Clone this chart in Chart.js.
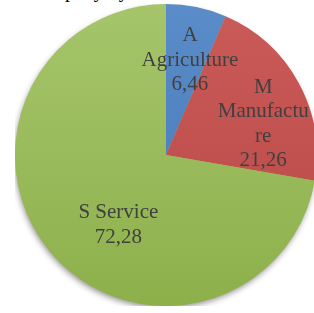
<!DOCTYPE html>
<html>
<head>
<meta charset="utf-8">
<script src="https://cdn.jsdelivr.net/npm/chart.js@4"></script>
<style>
  html, body { margin: 0; padding: 0; width: 314px; height: 313px; overflow: hidden; background: #fff; }
  #wrap { position: absolute; left: 15px; top: 4px; width: 302px; height: 302px; }
  #cut { position: absolute; left: 26px; top: -21px; font: 20px "Liberation Serif", "Times New Roman", "DejaVu Serif", serif; color: #000; white-space: nowrap; }
</style>
</head>
<body>
<div id="cut">Company by</div>
<div id="wrap"><canvas id="pie"></canvas></div>
<script>
// sector shares (%)
const codes = ["A", "M", "S"];
const sectors = ["Agriculture", "Manufacture", "Service"];
const shares = [6.46, 21.26, 72.28];
// how each label is wrapped in the picture
const labelLines = [
    ["A", "Agriculture", "6,46"],
    ["M", "Manufactu", "re", "21,26"],
    ["S Service", "72,28"]
];

const labelFont = '21px "Liberation Serif", "Times New Roman", "DejaVu Serif", serif';

const topColors = ["#5a8cca", "#cb5b59", "#a6c56b"];
const bottomColors = ["#4877b5", "#b84845", "#8db04b"];

function sliceFill(ctx) {
    const chart = ctx.chart;
    const area = chart.chartArea;
    if (!area) return topColors[ctx.dataIndex];
    const g = chart.ctx.createLinearGradient(0, area.top, 0, area.bottom);
    g.addColorStop(0, topColors[ctx.dataIndex]);
    g.addColorStop(1, bottomColors[ctx.dataIndex]);
    return g;
}

// soft shadow under the whole pie
const pieShadow = {
    id: "pieShadow",
    beforeDatasetsDraw(chart) {
        const arc = chart.getDatasetMeta(0).data[0];
        if (!arc) return;
        const c = chart.ctx;
        c.save();
        c.shadowColor = "rgba(0,0,0,0.45)";
        c.shadowBlur = 6;
        c.shadowOffsetX = -1;
        c.shadowOffsetY = 3;
        c.fillStyle = "#9bbb59";
        c.beginPath();
        c.arc(arc.x, arc.y, arc.outerRadius - 1, 0, Math.PI * 2);
        c.fill();
        c.restore();
    }
};

// labels placed along each slice's middle angle
const labelRadius = [0.66, 0.68, 0.55];
const labelTurn = [0.04, 0.17, -0.26];
const sliceLabels = {
    id: "sliceLabels",
    afterDatasetsDraw(chart) {
        const c = chart.ctx;
        c.save();
        c.font = labelFont;
        c.fillStyle = "#404040";
        c.textAlign = "center";
        c.textBaseline = "middle";
        chart.getDatasetMeta(0).data.forEach((arc, i) => {
            const mid = (arc.startAngle + arc.endAngle) / 2 + labelTurn[i];
            const r = arc.outerRadius * labelRadius[i];
            const x = arc.x + Math.cos(mid) * r;
            const y = arc.y + Math.sin(mid) * r + 2;
            const lines = labelLines[i];
            const lh = 24.5;
            lines.forEach((t, k) => {
                c.fillText(t, x, y + (k - (lines.length - 1) / 2) * lh);
            });
        });
        c.restore();
    }
};

function drawPie() {
    new Chart(document.getElementById("pie"), {
        type: "pie",
        data: {
            labels: codes.map((c, i) => c + " " + sectors[i]),
            datasets: [{
                data: shares,
                backgroundColor: sliceFill,
                borderWidth: 0
            }]
        },
        options: {
            responsive: true,
            maintainAspectRatio: false,
            animation: false,
            layout: { padding: 0 },
            plugins: {
                legend: { display: false },
                tooltip: { enabled: false }
            }
        },
        plugins: [pieShadow, sliceLabels]
    });
}

document.fonts.load(labelFont).then(drawPie, drawPie);
</script>
</body>
</html>
